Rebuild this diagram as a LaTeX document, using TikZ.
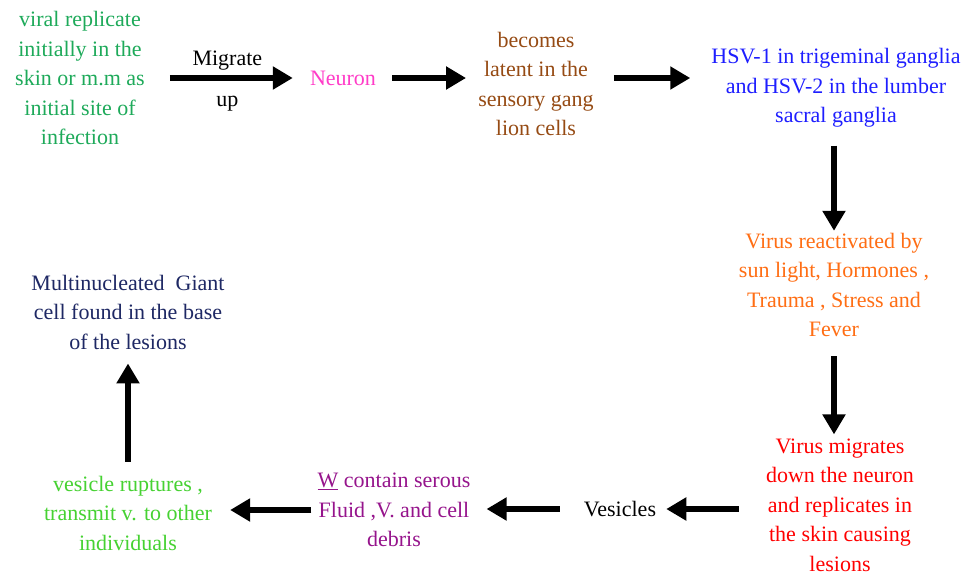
\documentclass[tikz,border=0pt]{standalone}
\usepackage{fontspec}
\newfontfamily\libser{Liberation Serif}
\usetikzlibrary{arrows.meta}
\definecolor{gA}{RGB}{30,170,90}
\definecolor{pinkN}{RGB}{255,60,200}
\definecolor{brownC}{RGB}{150,75,20}
\definecolor{blueD}{RGB}{30,30,255}
\definecolor{orangeE}{RGB}{255,110,20}
\definecolor{redF}{RGB}{255,0,0}
\definecolor{purpH}{RGB}{150,20,140}
\definecolor{gI}{RGB}{70,210,50}
\definecolor{navyJ}{RGB}{30,40,100}
\tikzset{
  txt/.style={align=center,inner sep=0pt,font=\libser\fontsize{22}{29.5}\selectfont},
  arr/.style={line width=6pt,-{Triangle[length=20pt,width=22pt]}},
}
\begin{document}
\begin{tikzpicture}[x=1pt,y=-1pt]
\useasboundingbox[fill=white] (0,0) rectangle (970,579);
\node[txt,text=gA] (a) at (80,78) {viral replicate\\initially in the\\skin or m.m as\\initial site of\\infection};
\node[txt,text=pinkN] (b) at (343,78) {Neuron};
\node[txt,text=brownC] (c) at (536,84) {becomes\\latent in the\\sensory gang\\lion cells};
\node[txt,text=blueD] (d) at (836,88) {HSV-1 in trigeminal ganglia\\and HSV-2 in the lumber\\sacral ganglia};
\node[txt,text=orangeE] (e) at (834,285) {Virus reactivated by\\sun light, Hormones ,\\Trauma , Stress and\\Fever};
\node[txt,text=redF] (f) at (840,505) {Virus migrates\\down the neuron\\and replicates in\\the skin causing\\lesions};
\node[txt,text=black] (g) at (620,509) {Vesicles};
\node[txt,text=purpH] (h) at (394,510) {\underline{W} contain serous\\Fluid ,V. and cell\\debris};
\node[txt,text=gI] (i) at (128,513) {vesicle ruptures ,\\transmit v. to other\\individuals};
\node[txt,text=navyJ] (j) at (128,312) {Multinucleated\ \ Giant\\cell found in the base\\of the lesions};
\draw[arr,shorten <=25pt,shorten >=17pt] (a.east |- b.west) -- (b.west)
  node[midway,txt,above=5pt,text=black] {Migrate}
  node[midway,txt,below=15pt,text=black] {up};
\draw[arr,shorten <=16pt,shorten >=12pt] (b.east) -- (b.east -| c.west);
\draw[arr,shorten <=20pt,shorten >=21pt] (b.east -| c.east) -- (b.east -| d.west);
\draw[arr,shorten <=18pt,shorten >=2pt] (e.north |- d.south) -- (e.north);
\draw[arr,shorten <=19pt,shorten >=4pt] (e.south) -- (e.south |- f.north);
\draw[arr,shorten <=27pt,shorten >=10pt] (f.west |- g.east) -- (g.east);
\draw[arr,shorten <=24pt,shorten >=16pt] (g.west) -- (g.west -| h.east);
\draw[arr,shorten <=6pt,shorten >=18pt] (h.west) -- (h.west -| i.east);
\draw[arr,shorten <=14pt,shorten >=14pt] (i.north) -- (j.south);
\end{tikzpicture}
\end{document}
